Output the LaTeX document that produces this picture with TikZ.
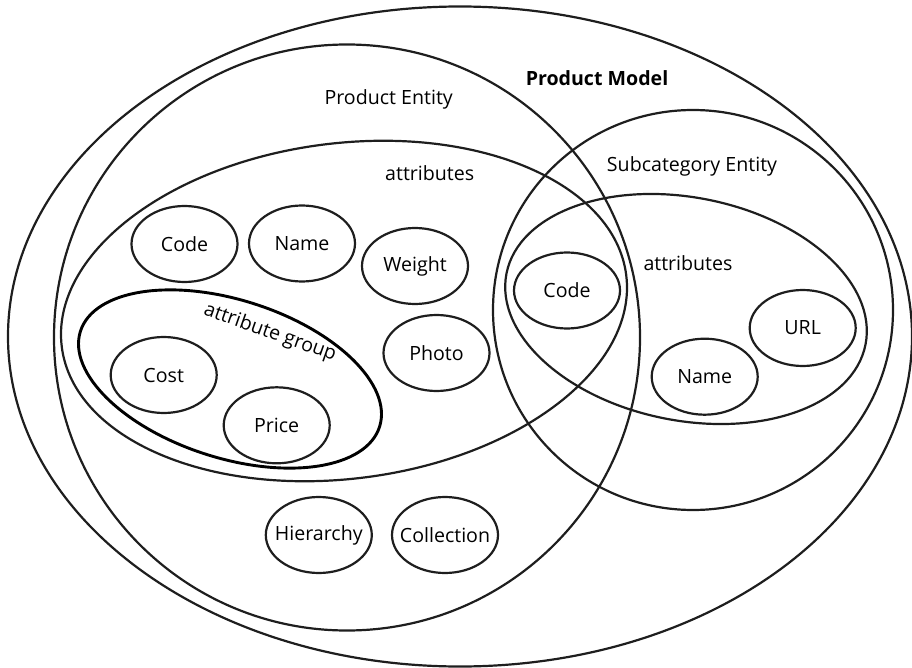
\documentclass[tikz,border=0pt]{standalone}
\usepackage{fontspec}
\setmainfont{Open Sans}
\usetikzlibrary{shapes.geometric}
\definecolor{linec}{RGB}{30,30,30}
\newcommand{\zw}[1]{\makebox[0pt][c]{#1}}
\tikzset{
  big/.style={draw=linec, line width=2.2pt},
  grp/.style={draw=black, line width=2.9pt},
  el/.style={ellipse, draw=linec, line width=2.2pt, minimum width=106pt, minimum height=76pt, inner sep=0pt},
  lbl/.style={inner sep=0pt, text=black},
}
\begin{document}
\begin{tikzpicture}[x=1pt,y=-1pt, font=\fontsize{19.6pt}{22pt}\selectfont]
\useasboundingbox (0,0) rectangle (912,668);
% containers
\draw[big] (460,336.5) ellipse [x radius=452pt, y radius=330pt];
\draw[big] (347,337.5) circle [radius=293pt];
\draw[big] (693,310) circle [radius=200pt];
\draw[big, rotate around={7.3:(344,311)}] (344,311) ellipse [x radius=284.5pt, y radius=167.7pt];
\draw[big, rotate around={-11.2:(686,309)}] (686,309) ellipse [x radius=183pt, y radius=111.5pt];
\draw[grp, rotate around={-17.7:(230,379)}] (230,379) ellipse [x radius=157pt, y radius=79pt];
% labels
\node[lbl, font=\fontsize{19.6pt}{22pt}\selectfont\bfseries] (pm) at (597,78) {Product Model};
\node[lbl] (pe) at (388.7,99) {Product Entity};
\node[lbl] (attl) at (429.7,173) {attributes};
\node[lbl] (se) at (692,166.5) {Subcategory Entity};
\node[lbl] (attr) at (688,263) {attributes};
\node[lbl, rotate=-19.5] (ag) at (270,333) {attribute group};
% attribute nodes
\node[el] (code1) at (184.5,244) {\zw{Code}};
\node[el] (name1) at (302,243.5) {\zw{Name}};
\node[el] (weight) at (415,266) {\zw{Weight}};
\node[el] (photo) at (436.5,353) {\zw{Photo}};
\node[el] (cost) at (163.7,375) {\zw{Cost}};
\node[el] (price) at (276.7,425.3) {\zw{Price}};
\node[el] (hier) at (318.8,535) {\zw{Hierarchy}};
\node[el] (coll) at (445,535) {\zw{Collection}};
\node[el] (code2) at (567,290.5) {\zw{Code}};
\node[el] (url) at (802.7,328) {\zw{URL}};
\node[el] (name2) at (704.7,376.7) {\zw{Name}};
\end{tikzpicture}
\end{document}
